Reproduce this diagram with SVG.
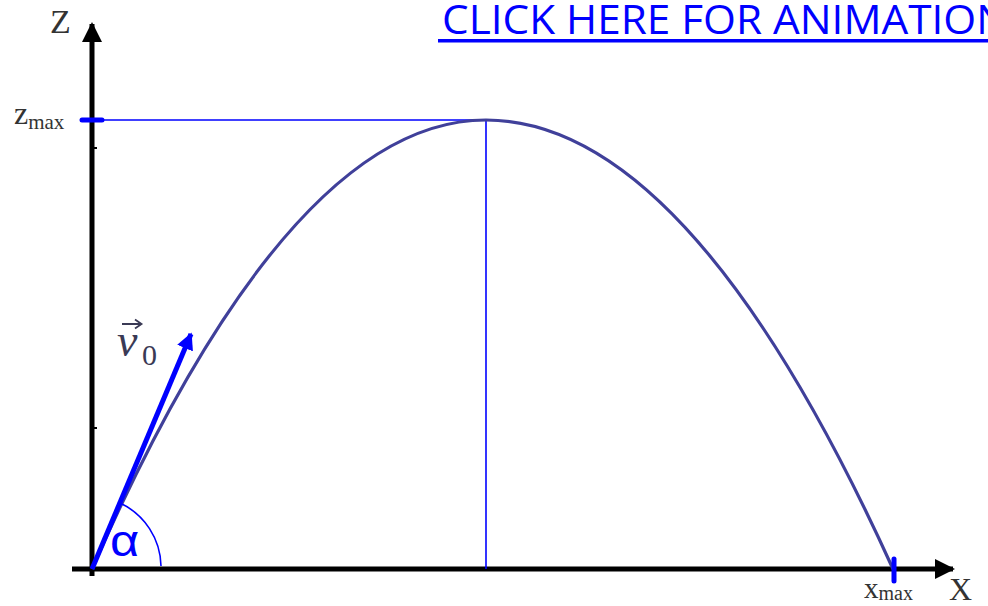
<svg xmlns="http://www.w3.org/2000/svg" width="988" height="606" viewBox="0 0 988 606">
<style>
.serif{font-family:"Liberation Serif","DejaVu Serif",serif;fill:#333}
.guide{stroke:#0000ff;stroke-width:1.6;fill:none}
.tick{stroke:#0000ff;stroke-width:5;stroke-linecap:round}
.axis{stroke:#000;stroke-width:5;fill:none}
</style>
<defs>
<marker id="ah" viewBox="0 0 10 10" refX="9" refY="5" markerWidth="4" markerHeight="4" orient="auto" markerUnits="strokeWidth">
<path d="M0,0 L10,5 L0,10 z" fill="#000"/>
</marker>
<marker id="ahb" viewBox="0 0 10 10" refX="9" refY="5" markerWidth="3.4" markerHeight="3.4" orient="auto" markerUnits="strokeWidth">
<path d="M0,0 L10,5 L0,10 z" fill="#0000ff"/>
</marker>
</defs>
<rect width="988" height="606" fill="#fff"/>
<g id="axes">
<line class="axis" x1="92" y1="576" x2="92" y2="24" marker-end="url(#ah)"/>
<line class="axis" x1="72" y1="569" x2="953" y2="569" marker-end="url(#ah)"/>
<g stroke="#000" stroke-width="2">
<line x1="94" y1="148" x2="97" y2="148"/>
<line x1="94" y1="428" x2="97" y2="428"/>
</g>
<text class="serif" x="50" y="33" font-size="34">Z</text>
<text class="serif" x="949" y="600" font-size="32">X</text>
</g>
<g id="zmax">
<line class="guide" x1="92" y1="120" x2="486" y2="120"/>
<line class="tick" x1="82" y1="120" x2="102" y2="120"/>
<text class="serif" x="14" y="124"><tspan font-size="32">z</tspan><tspan font-size="21" dy="5">max</tspan></text>
</g>
<g id="apex-line">
<line class="guide" x1="486" y1="120" x2="486" y2="569"/>
</g>
<g id="trajectory">
<path d="M92,569 Q289,120 486,120 Q689.5,120 893,569" fill="none" stroke="#40409a" stroke-width="3.2"/>
</g>
<g id="xmax">
<line class="tick" x1="894" y1="559" x2="894" y2="581"/>
<text class="serif" x="864" y="598"><tspan font-size="29">x</tspan><tspan font-size="20" dy="2">max</tspan></text>
</g>
<g id="v0">
<line x1="92" y1="569" x2="191" y2="334" stroke="#0000ff" stroke-width="5" marker-end="url(#ahb)"/>
<text x="117" y="356" font-family="Liberation Serif, DejaVu Serif, serif" font-style="italic" font-size="46" fill="#3a3a55">v</text>
<text x="142" y="365" font-family="Liberation Serif, DejaVu Serif, serif" font-size="30" fill="#3a3a55">0</text>
<path d="M122,324 L141,324 M135,319.5 L141.5,324 L135,328.5" stroke="#3a3a55" stroke-width="1.8" fill="none"/>
</g>
<g id="alpha">
<path d="M120,503 A71,71 0 0 1 161,566" class="guide" stroke-width="2"/>
<text transform="translate(110,556) scale(1.15,1)" font-family="Liberation Sans, Arial, sans-serif" font-size="44" fill="#0000ff">α</text>
</g>
<g id="link">
<text x="442" y="33.5" textLength="566" lengthAdjust="spacingAndGlyphs" font-family="Open Sans, sans-serif" font-size="40.5" fill="#0000ff">CLICK HERE FOR ANIMATION</text>
<rect x="438" y="39" width="560" height="3.5" fill="#0000ff"/>
</g>
</svg>
